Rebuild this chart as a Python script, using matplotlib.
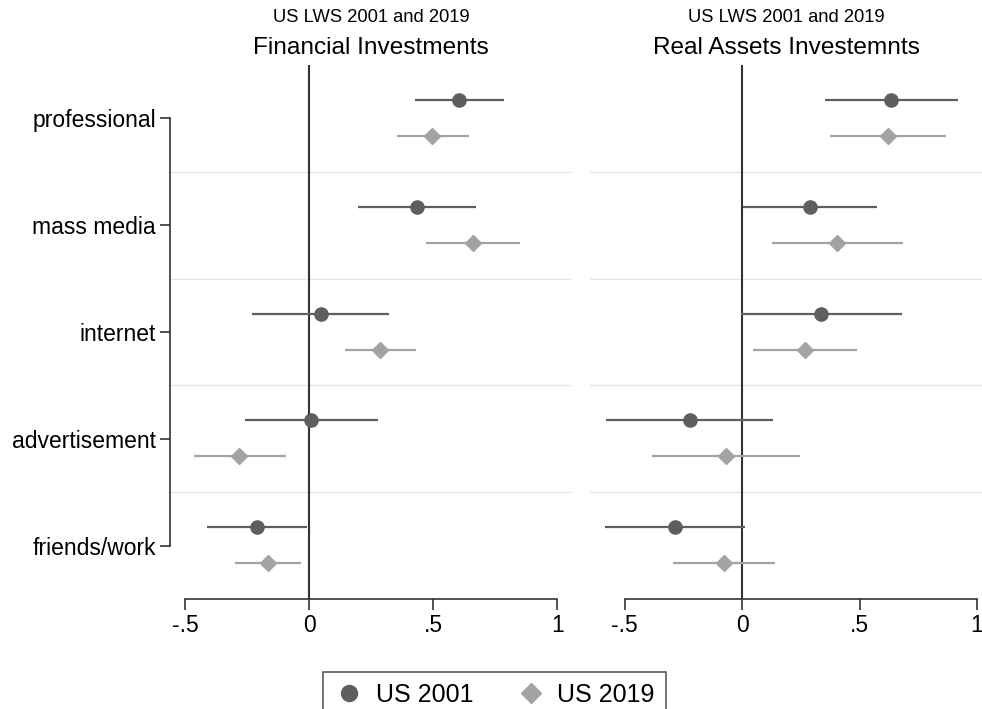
import matplotlib
matplotlib.use("Agg")
import matplotlib.pyplot as plt
from matplotlib.lines import Line2D

plt.rcParams['font.family'] = ['Liberation Sans', 'DejaVu Sans']

categories = ["professional", "mass media", "internet", "advertisement", "friends/work"]

# Financial investments: point estimate, lower, upper
fin_2001 = [0.605, 0.433, 0.046, 0.008, -0.211]
fin_2001_lo = [0.426, 0.198, -0.231, -0.259, -0.412]
fin_2001_hi = [0.786, 0.672, 0.323, 0.276, -0.009]
fin_2019 = [0.496, 0.659, 0.285, -0.282, -0.168]
fin_2019_lo = [0.354, 0.469, 0.143, -0.465, -0.298]
fin_2019_hi = [0.643, 0.852, 0.430, -0.095, -0.033]

# Real assets investments
real_2001 = [0.634, 0.287, 0.336, -0.221, -0.284]
real_2001_lo = [0.353, 0.003, -0.006, -0.579, -0.582]
real_2001_hi = [0.918, 0.574, 0.681, 0.133, 0.013]
real_2019 = [0.620, 0.406, 0.268, -0.068, -0.075]
real_2019_lo = [0.374, 0.129, 0.047, -0.383, -0.292]
real_2019_hi = [0.867, 0.685, 0.489, 0.248, 0.139]

xticks = [-0.5, 0, 0.5, 1]
xticklabels = ["-.5", "0", ".5", "1"]

c01 = "#5e5e5e"
c19 = "#a3a3a3"

fig = plt.figure(figsize=(9.82, 7.09), dpi=100)
ax1 = fig.add_axes([170 / 982, 1 - 599 / 709, 402 / 982, 534 / 709])
ax2 = fig.add_axes([590 / 982, 1 - 599 / 709, 392 / 982, 534 / 709])


def panel(ax, est1, lo1, hi1, est2, lo2, hi2, xlim, title, show_y):
    pos = list(range(1, len(categories) + 1))
    y1 = [p - 0.172 for p in pos]
    y2 = [p + 0.165 for p in pos]
    for sep in [1.5, 2.5, 3.5, 4.5]:
        ax.axhline(sep, color="#e6e6e6", lw=1.0, zorder=0)
    ax.axvline(0, color="#333333", lw=1.5, zorder=1)
    ax.hlines(y1, lo1, hi1, color=c01, lw=1.6, zorder=2)
    ax.hlines(y2, lo2, hi2, color=c19, lw=1.6, zorder=2)
    ax.plot(est1, y1, 'o', color=c01, ms=9.5, zorder=3, ls='none')
    ax.plot(est2, y2, 'D', color=c19, ms=8.5, zorder=3, ls='none')
    ax.set_xlim(*xlim)
    ax.set_ylim(5.5, 0.5)
    ax.set_xticks(xticks)
    ax.set_xticklabels(xticklabels, fontsize=16.5)
    ax.tick_params(axis='x', length=8, width=1.2, color="#333333", pad=3)
    ax.spines['top'].set_visible(False)
    ax.spines['right'].set_visible(False)
    ax.spines['bottom'].set_bounds(-0.5, 1)
    ax.spines['bottom'].set_color("#333333")
    ax.spines['bottom'].set_linewidth(1.2)
    if show_y:
        ax.set_yticks(pos)
        ax.set_yticklabels(categories, fontsize=16.5)
        ax.tick_params(axis='y', length=7, width=1.2, color="#333333", pad=3)
        ax.spines['left'].set_bounds(1, 5)
        ax.spines['left'].set_color("#333333")
        ax.spines['left'].set_linewidth(1.2)
    else:
        ax.set_yticks([])
        ax.spines['left'].set_visible(False)
    ax.text(0.5, 1.0 + 48 / 534, "US LWS 2001 and 2019", transform=ax.transAxes,
            ha='center', va='center', fontsize=13.2)
    ax.text(0.5, 1.0 + 17 / 534, title, transform=ax.transAxes,
            ha='center', va='center', fontsize=17.6)


panel(ax1, fin_2001, fin_2001_lo, fin_2001_hi, fin_2019, fin_2019_lo, fin_2019_hi,
      (-0.562, 1.06), "Financial Investments", True)
panel(ax2, real_2001, real_2001_lo, real_2001_hi, real_2019, real_2019_lo, real_2019_hi,
      (-0.647, 1.021), "Real Assets Investemnts", False)

handles = [Line2D([], [], marker='o', color=c01, ls='none', ms=11.5),
           Line2D([], [], marker='D', color=c19, ls='none', ms=10)]
leg = fig.legend(handles, ["US 2001", "US 2019"], loc='upper center',
                 bbox_to_anchor=(0.5035, 1 - 659 / 709), ncol=2, fontsize=18,
                 frameon=True, fancybox=False, edgecolor="#333333",
                 handletextpad=0.45, columnspacing=1.7, borderpad=0.45,
                 handlelength=1.2)
leg.get_frame().set_linewidth(1.2)

fig.savefig("out.png", dpi=100, facecolor="white")
